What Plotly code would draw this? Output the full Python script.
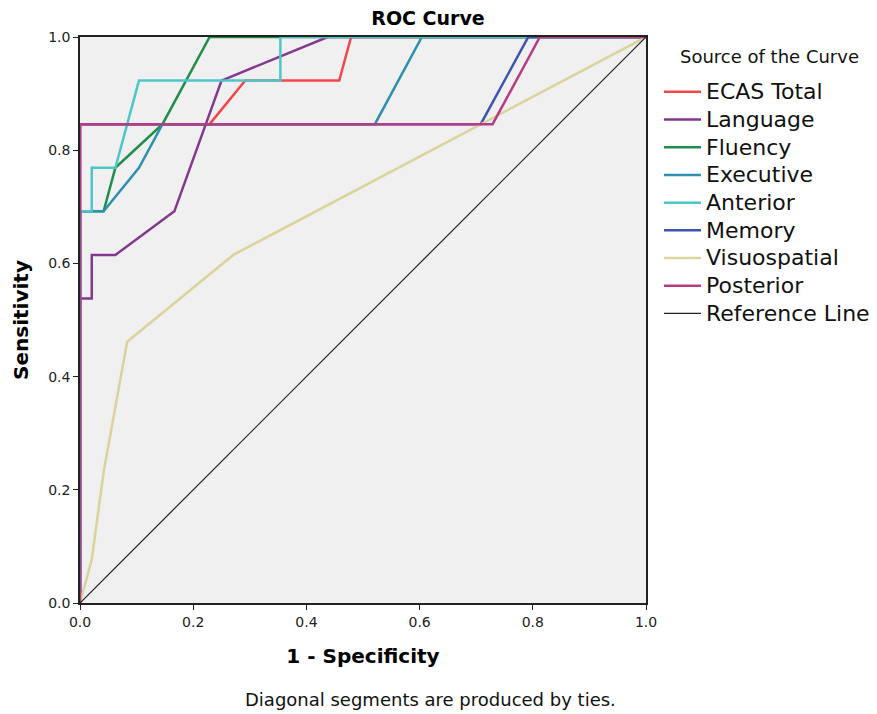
import plotly.graph_objects as go

# 1 - Specificity (x) and Sensitivity (y) for each curve
ecas_x = [0.0, 0.0, 0.229, 0.292, 0.458, 0.479, 1.0]
ecas_y = [0.0, 0.846, 0.846, 0.923, 0.923, 1.0, 1.0]

language_x = [0.0, 0.0, 0.0208, 0.0208, 0.0625, 0.1667, 0.25, 0.4375, 1.0]
language_y = [0.0, 0.538, 0.538, 0.615, 0.615, 0.692, 0.923, 1.0, 1.0]

fluency_x = [0.0, 0.0, 0.0417, 0.0625, 0.1458, 0.229, 1.0]
fluency_y = [0.0, 0.692, 0.692, 0.769, 0.846, 1.0, 1.0]

executive_x = [0.0, 0.0, 0.0417, 0.1042, 0.1458, 0.521, 0.604, 1.0]
executive_y = [0.0, 0.692, 0.692, 0.769, 0.846, 0.846, 1.0, 1.0]

anterior_x = [0.0, 0.0, 0.0208, 0.0208, 0.0625, 0.1042, 0.354, 0.354, 1.0]
anterior_y = [0.0, 0.692, 0.692, 0.769, 0.769, 0.923, 0.923, 1.0, 1.0]

memory_x = [0.0, 0.0, 0.708, 0.792, 1.0]
memory_y = [0.0, 0.846, 0.846, 1.0, 1.0]

visuo_x = [0.0, 0.0208, 0.0417, 0.0833, 0.2708, 1.0]
visuo_y = [0.0, 0.077, 0.231, 0.4615, 0.615, 1.0]

posterior_x = [0.0, 0.0, 0.729, 0.8125, 1.0]
posterior_y = [0.0, 0.846, 0.846, 1.0, 1.0]

ref_x = [0.0, 1.0]
ref_y = [0.0, 1.0]

series = [
    ("ECAS Total", ecas_x, ecas_y, "#f2474a", 2.5),
    ("Language", language_x, language_y, "#83378f", 2.5),
    ("Fluency", fluency_x, fluency_y, "#1f8e4a", 2.5),
    ("Executive", executive_x, executive_y, "#2e8fae", 2.5),
    ("Anterior", anterior_x, anterior_y, "#4cc6c8", 2.5),
    ("Memory", memory_x, memory_y, "#3e55b0", 2.5),
    ("Visuospatial", visuo_x, visuo_y, "#d8d49c", 2.5),
    ("Posterior", posterior_x, posterior_y, "#b83c84", 2.5),
    ("Reference Line", ref_x, ref_y, "#222222", 1.2),
]

fig = go.Figure()
for name, xs, ys, col, w in series:
    fig.add_trace(go.Scatter(x=xs, y=ys, mode="lines",
                             name='<span style="font-size:22px">' + name + '</span>',
                             line=dict(color=col, width=w), cliponaxis=False))

tickfont = dict(family="DejaVu Sans, sans-serif", size=14, color="#222")
titlefont = dict(family="DejaVu Sans, sans-serif", size=20, color="#000", weight="bold")

fig.update_layout(
    width=877, height=714,
    margin=dict(l=80, r=231, t=37, b=111, autoexpand=False),
    paper_bgcolor="white",
    plot_bgcolor="#f0f0f0",
    title=dict(text="<b>ROC Curve</b>", x=428 / 877, xanchor="center", y=1 - 18 / 714, yanchor="middle",
               font=dict(family="DejaVu Sans, sans-serif", size=19, color="#000")),
    showlegend=True,
    legend=dict(
        font=dict(family="DejaVu Sans, sans-serif", size=19, color="#111"),
        x=(659 - 80) / 566, xanchor="left", y=(603 - 73) / 566, yanchor="top",
        bgcolor="rgba(0,0,0,0)", tracegroupgap=0, itemwidth=37,
    ),
    xaxis=dict(range=[0, 1], dtick=0.2, tickformat=".1f", showgrid=False, zeroline=False,
               showline=True, linecolor="#222", linewidth=1.5, mirror=True,
               ticks="outside", ticklen=5, tickcolor="#222", tickfont=tickfont,
               title=dict(text="1 - Specificity", font=titlefont, standoff=20)),
    yaxis=dict(range=[0, 1], dtick=0.2, tickformat=".1f", showgrid=False, zeroline=False,
               showline=True, linecolor="#222", linewidth=1.5, mirror=True,
               ticks="outside", ticklen=5, tickcolor="#222", tickfont=tickfont,
               title=dict(text="Sensitivity", font=titlefont, standoff=14)),
    annotations=[
        dict(text="Source of the Curve", xref="paper", yref="paper",
             x=(769 - 80) / 566, y=(603 - 56) / 566, xanchor="center", yanchor="middle", showarrow=False,
             font=dict(family="DejaVu Sans, sans-serif", size=18, color="#111")),
        dict(text="Diagonal segments are produced by ties.", xref="paper", yref="paper",
             x=(430 - 80) / 566, y=-(700 - 603) / 566, xanchor="center", yanchor="middle", showarrow=False,
             font=dict(family="DejaVu Sans, sans-serif", size=18, color="#111")),
    ],
)

fig.write_html("out.html")
